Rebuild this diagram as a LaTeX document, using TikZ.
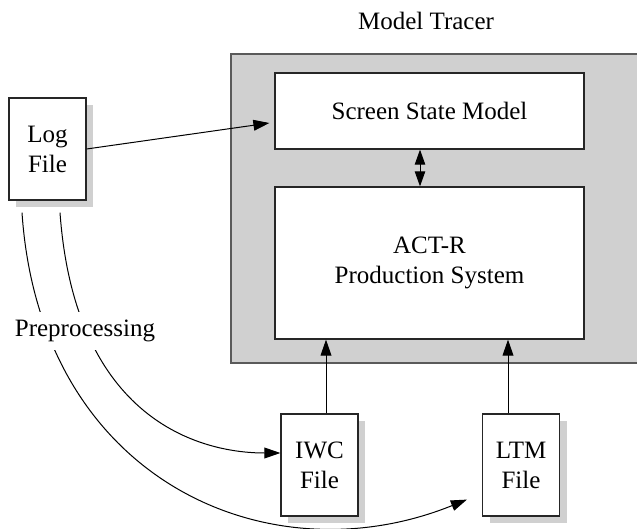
\documentclass[tikz,border=0pt]{standalone}
\usepackage{fontspec}
\setmainfont{Liberation Serif}
\usetikzlibrary{arrows.meta,calc,shadows}
\definecolor{panelgray}{HTML}{D0D0D0}
\definecolor{edgegray}{HTML}{5A5A5A}
\begin{document}
\begin{tikzpicture}[x=0.5pt,y=-0.5pt,
  font=\fontsize{12.5}{15}\selectfont,
  box/.style={draw=black!85, line width=0.6pt, fill=white, inner sep=0pt, align=center},
  filebox/.style={box, minimum width=38.5pt, minimum height=51pt,
    general shadow={fill=panelgray, shadow xshift=3.5pt, shadow yshift=-3.5pt}},
  conn/.style={line width=0.5pt, -{Triangle[length=8pt,width=5.4pt]}},
  dconn/.style={line width=0.5pt, {Triangle[length=7.5pt,width=5.2pt]}-{Triangle[length=7.5pt,width=5.2pt]}}]
\useasboundingbox (0,0) rectangle (637,529);
\node[draw=edgegray, line width=0.8pt, fill=panelgray, minimum width=207pt,
      minimum height=154.5pt, inner sep=0pt] (tracer) at (438,208.5) {};
\node (title) at (426,21) {Model Tracer};
\node[box, minimum width=154.5pt, minimum height=38pt] (screen) at (429.5,111) {Screen State Model};
\node[box, minimum width=154.5pt, minimum height=76pt] (act) at (429.5,263) {ACT-R\\Production System};
\node[filebox] (log) at (47.5,149) {Log\\File};
\node[filebox] (iwc) at (319.5,465) {IWC\\File};
\node[filebox] (ltm) at (521,465) {LTM\\File};
% named free ends
\coordinate (logA) at ($(log.south)+(-25.5,12)$);
\coordinate (logB) at ($(log.south)+(12.5,12)$);
\coordinate (ltmIn) at ($(ltm.south west)+(-15,-17)$);
\coordinate (iwcIn) at ($(iwc.west)+(0,-12)$);
\coordinate (scrIn) at ($(screen.west)+(-5,12)$);
\coordinate (iwcUp) at ($(iwc.north)+(6.5,0)$);
\coordinate (ltmUp) at ($(ltm.north)+(-13,0)$);
\coordinate (mid) at ($(screen.south)+(-9.5,0)$);
% connectors
\draw[conn] (log.east) -- (scrIn);
\draw[dconn] (mid) -- (mid |- act.north);
\draw[conn] (iwcUp) -- (iwcUp |- act.south);
\draw[conn] (ltmUp) -- (ltmUp |- act.south);
\draw[conn] (logA) .. controls (40,480) and (268,580) .. (ltmIn);
\draw[conn] (logB) .. controls (75,420) and (200,453) .. (iwcIn);
\node[fill=white, inner sep=4pt] (prep) at (85,331) {Preprocessing};
\end{tikzpicture}
\end{document}
